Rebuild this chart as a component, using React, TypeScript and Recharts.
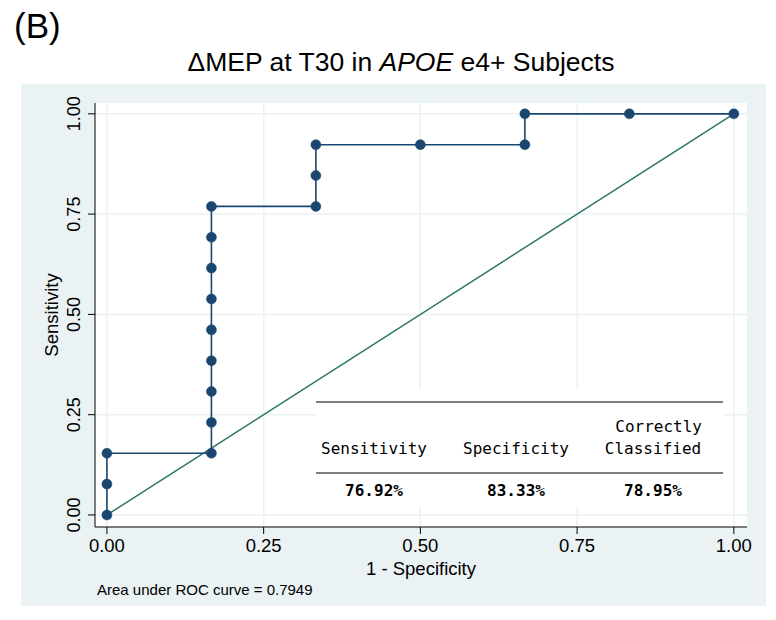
import React from 'react';
import { LineChart, Line, XAxis, YAxis, CartesianGrid } from 'recharts';

// ROC points: 1 - specificity vs sensitivity
const falsePosRate = [0, 0, 0, 0.1667, 0.1667, 0.1667, 0.1667, 0.1667, 0.1667, 0.1667, 0.1667, 0.1667, 0.3333, 0.3333, 0.3333, 0.5, 0.6667, 0.6667, 0.8333, 1];
const truePosRate = [0, 0.0769, 0.1538, 0.1538, 0.2308, 0.3077, 0.3846, 0.4615, 0.5385, 0.6154, 0.6923, 0.7692, 0.7692, 0.8462, 0.9231, 0.9231, 0.9231, 1, 1, 1];
const refLine = [{ x: 0, y: 0 }, { x: 1, y: 1 }];
const axisTicks = [0, 0.25, 0.5, 0.75, 1];

const tableHeaders = ['Sensitivity', 'Specificity', 'Classified'];
const tableValues = ['76.92%', '83.33%', '78.95%'];
const aucText = 'Area under ROC curve = 0.7949';

const rocData = falsePosRate.map((x, i) => ({ x, y: truePosRate[i] }));

const NAVY = '#1A476F';
const TEAL = '#2E7768';
const BG = '#EAF2F3';
const SANS = '"Liberation Sans", Arial, Helvetica, sans-serif';
const MONO = '"DejaVu Sans Mono", monospace';

const XTick = (props: any) => {
  const { x, y, payload } = props;
  return (
    <text x={x} y={y + 16} textAnchor="middle" fontSize={18.5} fontFamily={SANS} fill="#000">
      {payload.value.toFixed(2)}
    </text>
  );
};

const YTick = (props: any) => {
  const { x, y, payload } = props;
  const tx = x - 6;
  return (
    <text x={tx} y={y} transform={`rotate(-90, ${tx}, ${y})`} textAnchor="middle" fontSize={18} fontFamily={SANS} fill="#000">
      {payload.value.toFixed(2)}
    </text>
  );
};

export default function App() {
  return (
    <div style={{ position: 'absolute', left: 0, top: 0, width: 776, height: 620, background: '#fff' }}>
      <div style={{ position: 'absolute', left: 21, top: 84, width: 745, height: 522, background: BG }} />
      <div style={{ position: 'absolute', left: 0, top: 0 }}>
        <LineChart width={776} height={620} margin={{ top: 103, right: 29, bottom: 33, left: 35 }}>
          <CartesianGrid fill="#fff" stroke={BG} strokeWidth={1.5} horizontalValues={axisTicks} verticalValues={axisTicks} />
          <XAxis
            type="number"
            dataKey="x"
            domain={[-0.019, 1.021]}
            allowDataOverflow
            ticks={axisTicks}
            height={60}
            tickSize={7}
            stroke="#000"
            tick={<XTick />}
          />
          <YAxis
            type="number"
            dataKey="y"
            domain={[-0.03, 1.027]}
            allowDataOverflow
            ticks={axisTicks}
            width={60}
            tickSize={7}
            stroke="#000"
            tick={<YTick />}
          />
          <Line data={refLine} dataKey="y" type="linear" stroke={TEAL} strokeWidth={1.5} dot={false} isAnimationActive={false} />
          <Line
            data={rocData}
            dataKey="y"
            type="linear"
            stroke={NAVY}
            strokeWidth={1.6}
            dot={{ r: 5, fill: NAVY, stroke: NAVY, strokeWidth: 0.5 }}
            isAnimationActive={false}
          />
        </LineChart>
      </div>
      <svg width={776} height={620} style={{ position: 'absolute', left: 0, top: 0, pointerEvents: 'none' }}>
        <text x={14} y={38} fontSize={35} fontFamily={SANS} fill="#000">(B)</text>
        <text x={401} y={71} fontSize={26.5} fontFamily={SANS} fill="#000" textAnchor="middle">
          ΔMEP at T30 in <tspan fontStyle="italic">APOE</tspan> e4+ Subjects
        </text>
        <text x={58} y={315} transform="rotate(-90, 58, 315)" fontSize={18.5} fontFamily={SANS} fill="#000" textAnchor="middle">
          Sensitivity
        </text>
        <text x={421} y={575} fontSize={18.5} fontFamily={SANS} fill="#000" textAnchor="middle">1 - Specificity</text>
        <text x={97} y={595} fontSize={15} fontFamily={SANS} fill="#000">{aucText}</text>

        <rect x={316} y={390} width={407} height={116} fill="#fff" />
        <line x1={316} x2={723} y1={402} y2={402} stroke="#000" strokeWidth={1} />
        <line x1={316} x2={723} y1={473} y2={473} stroke="#000" strokeWidth={1} />
        <text x={702} y={432} fontSize={16} fontFamily={MONO} fill="#000" textAnchor="end">Correctly</text>
        {tableHeaders.map((h, i) => (
          <text key={h} x={[374, 516, 653][i]} y={454} fontSize={16} fontFamily={MONO} fill="#000" textAnchor="middle">{h}</text>
        ))}
        {tableValues.map((v, i) => (
          <text key={v} x={[374, 516, 653][i]} y={496} fontSize={16} fontFamily={MONO} fontWeight="bold" fill="#000" textAnchor="middle">{v}</text>
        ))}
      </svg>
    </div>
  );
}
